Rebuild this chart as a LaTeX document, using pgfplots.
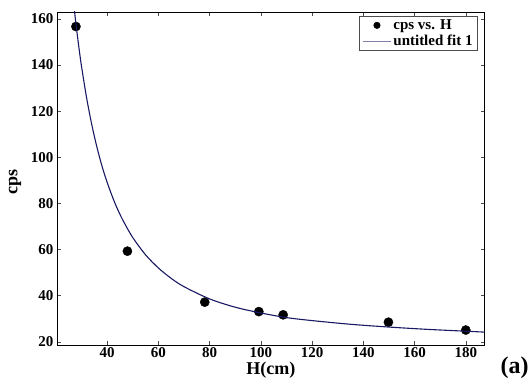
\documentclass[border=0pt]{standalone}
\usepackage{pgfplots}
\pgfplotsset{compat=1.18}
\usepackage{fontspec}
\setmainfont{Liberation Serif}
\definecolor{fitblue}{RGB}{25,25,100}
\begin{document}
\begin{tikzpicture}
\begin{axis}[
  at={(0,0)}, anchor=south west,
  scale only axis, width=428pt, height=333pt,
  xmin=20.4, xmax=187.4, ymin=18.7, ymax=163,
  xtick={40,60,...,180}, ytick={20,40,...,160},
  tick align=inside, major tick length=4pt,
  axis line style={line width=0.6pt}, tick style={line width=0.5pt,color=black!70},
  /pgf/number format/assume math mode=true,
  ticklabel style={font=\fontsize{15}{17}\selectfont\bfseries},
  xticklabel style={yshift=1pt},
  xlabel={H(cm)}, ylabel={cps},
  label style={font=\fontsize{18}{20}\selectfont\bfseries},
  xlabel style={at={(axis description cs:0.5,-0.075)}, anchor=center},
  ylabel style={at={(axis description cs:-0.098,0.49)}, anchor=center},
  clip mode=individual,
  legend style={at={(1,1)}, anchor=north east, xshift=-7pt, yshift=-4pt,
    font=\fontsize{15}{16}\selectfont\bfseries, draw=black!70, inner xsep=3pt, inner ysep=1.5pt,
    row sep=0pt, cells={anchor=west}},
  legend image code/.code={},
]
\addplot[only marks, mark=*, mark size=4.6pt, black, mark options={fill=black},
  legend image code/.code={\draw[black,fill=black] (14pt,0pt) circle (3.3pt);}]
  table {
x y
27.8 156.7
47.9 59.3
78.1 37.2
99.2 33.1
108.7 31.7
149.8 28.5
180.0 25.1
};
\addlegendentry{cps vs. H}
\addplot[fitblue, line width=1.1pt, smooth,
  legend image code/.code={\draw[fitblue!55,line width=0.9pt] (0pt,0pt) -- (28pt,0pt);}]
  table {
x y
27.2 163.8
28 156.1
29 147.3
30 139.3
32 125.6
34 114.1
36 104.4
38 96.1
40 89.1
43 80.2
46 73.0
50 65.2
55 57.7
60 52.0
65 47.5
70 43.9
80 38.6
90 35.0
100 32.5
110 30.5
120 29.2
135 27.6
150 26.4
165 25.4
180 24.6
187.4 24.2
};
\addlegendentry{untitled fit 1}
\node[font=\fontsize{24}{26}\selectfont\bfseries, anchor=center] at (rel axis cs:1.07,-0.069) {(a)};
\end{axis}
\path (-57pt,-40pt) rectangle (475pt,345pt);
\end{tikzpicture}
\end{document}
